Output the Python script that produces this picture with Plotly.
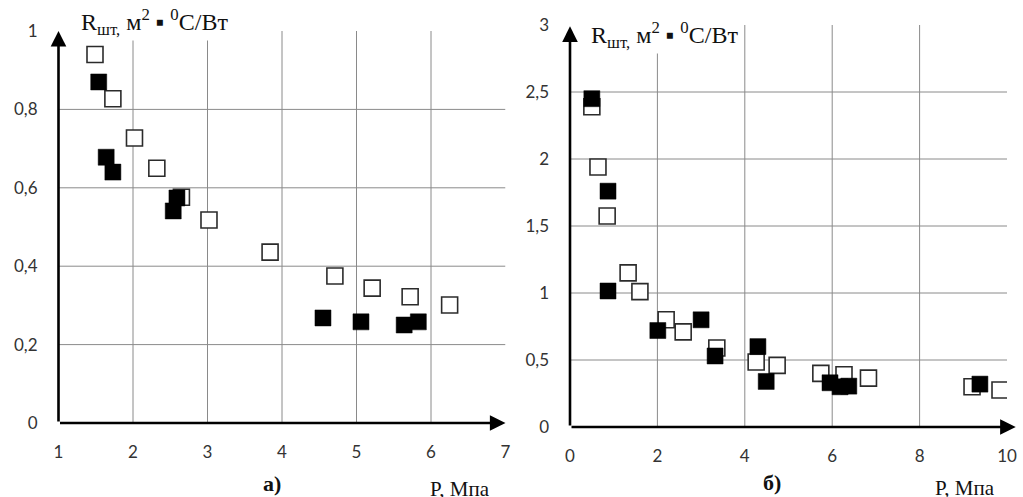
import plotly.graph_objects as go

W, H = 1023, 497

# ---- data: panel a) ----
a_open_x = [1.49, 1.73, 2.02, 2.32, 2.65, 3.02, 3.84, 4.71, 5.21, 5.72, 6.25]
a_open_y = [0.94, 0.827, 0.727, 0.65, 0.576, 0.518, 0.436, 0.375, 0.344, 0.322, 0.301]
a_fill_x = [1.54, 1.64, 1.73, 2.59, 2.54, 4.55, 5.06, 5.64, 5.83]
a_fill_y = [0.87, 0.678, 0.64, 0.574, 0.541, 0.268, 0.258, 0.25, 0.258]

# ---- data: panel б) ----
b_open_x = [0.50, 0.64, 0.85, 1.33, 1.60, 2.20, 2.59, 3.36, 4.26, 4.74, 5.74, 6.27, 6.83, 9.20, 9.84]
b_open_y = [2.39, 1.94, 1.575, 1.15, 1.01, 0.80, 0.71, 0.59, 0.485, 0.46, 0.40, 0.39, 0.365, 0.30, 0.276]
b_fill_x = [0.50, 0.87, 0.87, 2.01, 3.00, 3.32, 4.30, 4.49, 5.95, 6.18, 6.38, 9.38]
b_fill_y = [2.45, 1.76, 1.015, 0.72, 0.80, 0.53, 0.60, 0.34, 0.33, 0.30, 0.305, 0.32]

# ---- ticks ----
a_xticks = [1, 2, 3, 4, 5, 6, 7]
a_yticks = [0, 0.2, 0.4, 0.6, 0.8, 1]
a_yticktext = ["0", "0,2", "0,4", "0,6", "0,8", "1"]
b_xticks = [0, 2, 4, 6, 8, 10]
b_yticks = [0, 0.5, 1, 1.5, 2, 2.5, 3]
b_yticktext = ["0", "0,5", "1", "1,5", "2", "2,5", "3"]

ylabel = "R<sub>шт,</sub> м<sup>2</sup> ▪ <sup>0</sup>C/Вт"
xlabel = "P, Мпа"

fig = go.Figure()

open_marker = dict(symbol="square", size=16, color="white", line=dict(color="#2b2b2b", width=1.6))
fill_marker = dict(symbol="square", size=16, color="black", line=dict(color="black", width=0.5))

fig.add_trace(go.Scatter(x=a_open_x, y=a_open_y, mode="markers", marker=open_marker, xaxis="x", yaxis="y", showlegend=False))
fig.add_trace(go.Scatter(x=a_fill_x, y=a_fill_y, mode="markers", marker=fill_marker, xaxis="x", yaxis="y", showlegend=False))
fig.add_trace(go.Scatter(x=b_open_x, y=b_open_y, mode="markers", marker=open_marker, xaxis="x2", yaxis="y2", showlegend=False))
fig.add_trace(go.Scatter(x=b_fill_x, y=b_fill_y, mode="markers", marker=fill_marker, xaxis="x2", yaxis="y2", showlegend=False))

tickfont = dict(family="Lato, Open Sans, sans-serif", size=17, color="#333333")

def xa(dom, rng, ticks, anchor):
    return dict(domain=dom, range=rng, tickvals=ticks, ticktext=[str(t) for t in ticks],
                showgrid=False, zeroline=False, showline=False, ticks="", automargin=False,
                ticklabelstandoff=17, tickfont=tickfont, anchor=anchor, fixedrange=True)

def ya(dom, rng, ticks, text, anchor):
    return dict(domain=dom, range=rng, tickvals=ticks, ticktext=text,
                showgrid=False, zeroline=False, showline=False, ticks="", automargin=False,
                ticklabelstandoff=20, tickfont=tickfont, anchor=anchor, fixedrange=True)

fig.update_layout(
    width=W, height=H, margin=dict(l=0, r=0, t=0, b=0, autoexpand=False),
    paper_bgcolor="white", plot_bgcolor="white",
    xaxis=xa([58.5 / W, 505.5 / W], [1, 7], a_xticks, "y"),
    yaxis=ya([1 - 423 / H, 1 - 31 / H], [0, 1], a_yticks, a_yticktext, "x"),
    xaxis2=xa([570 / W, 1007 / W], [0, 10], b_xticks, "y2"),
    yaxis2=ya([1 - 427 / H, 1 - 25 / H], [0, 3], b_yticks, b_yticktext, "x2"),
)

grid = dict(color="#8a8a8a", width=1)
shapes = []
for v in a_xticks[1:-1]:
    shapes.append(dict(type="line", xref="x", yref="y", x0=v, x1=v, y0=0, y1=a_yticks[-1], line=grid, layer="below"))
for v in a_yticks[1:-1]:
    shapes.append(dict(type="line", xref="x", yref="y", x0=a_xticks[0], x1=a_xticks[-1], y0=v, y1=v, line=grid, layer="below"))
for v in b_xticks[1:-1]:
    shapes.append(dict(type="line", xref="x2", yref="y2", x0=v, x1=v, y0=0, y1=b_yticks[-1], line=grid, layer="below"))
for v in b_yticks[1:-1]:
    shapes.append(dict(type="line", xref="x2", yref="y2", x0=b_xticks[0], x1=b_xticks[-1], y0=v, y1=v, line=grid, layer="below"))
fig.update_layout(shapes=shapes)

def arrow(xref, yref, x, y, ax, ay):
    return dict(xref=xref, yref=yref, axref=xref, ayref=yref, x=x, y=y, ax=ax, ay=ay,
                text="", showarrow=True, arrowhead=2, arrowsize=1.2, arrowwidth=2.6, arrowcolor="black")

serif = "Liberation Serif, Times New Roman, serif"
anns = [
    arrow("x", "y", 7.0, 0, 1, 0),
    arrow("x", "y", 1, 1.0, 1, 0),
    arrow("x2", "y2", 10.2, 0, 0, 0),
    arrow("x2", "y2", 0, 2.99, 0, 0),
    dict(xref="paper", yref="paper", x=79 / W, y=1 - 22 / H, xanchor="left", yanchor="middle",
         text=ylabel, showarrow=False, font=dict(family=serif, size=24, color="#111"), bgcolor="white"),
    dict(xref="paper", yref="paper", x=589 / W, y=1 - 35 / H, xanchor="left", yanchor="middle",
         text=ylabel, showarrow=False, font=dict(family=serif, size=24, color="#111"), bgcolor="white"),
    dict(xref="paper", yref="paper", x=272 / W, y=1 - 483 / H, xanchor="center", yanchor="middle",
         text="<b>а)</b>", showarrow=False, font=dict(family=serif, size=22, color="#111")),
    dict(xref="paper", yref="paper", x=772 / W, y=1 - 482 / H, xanchor="center", yanchor="middle",
         text="<b>б)</b>", showarrow=False, font=dict(family=serif, size=22, color="#111")),
    dict(xref="paper", yref="paper", x=460 / W, y=1 - 489 / H, xanchor="center", yanchor="middle",
         text=xlabel, showarrow=False, font=dict(family=serif, size=21, color="#111")),
    dict(xref="paper", yref="paper", x=965 / W, y=1 - 488 / H, xanchor="center", yanchor="middle",
         text=xlabel, showarrow=False, font=dict(family=serif, size=21, color="#111")),
]
fig.update_layout(annotations=anns)

fig.write_html("out.html", config={"displayModeBar": False, "staticPlot": True},
               post_script="document.body.style.margin='0';document.body.style.overflow='hidden';")
